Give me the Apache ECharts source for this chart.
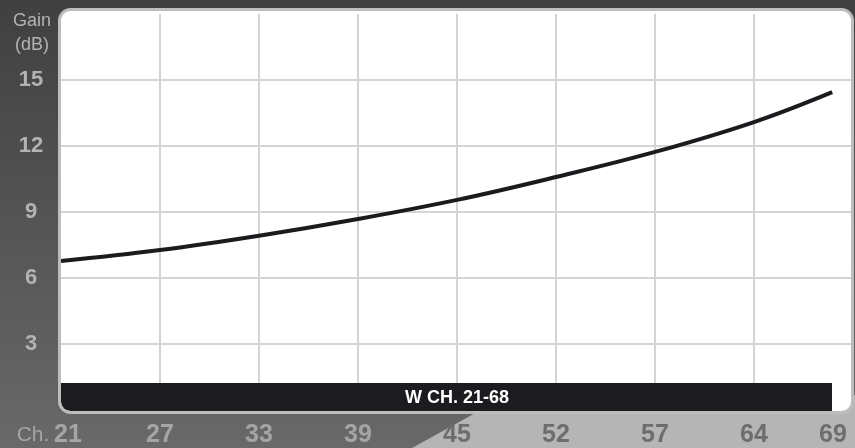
<!DOCTYPE html>
<html>
<head>
<meta charset="utf-8">
<script src="https://cdn.jsdelivr.net/npm/echarts@6/dist/echarts.min.js"></script>
<style>
html,body{margin:0;padding:0;background:#555;}
#chart{width:855px;height:448px;}
</style>
</head>
<body>
<div id="chart"></div>
<script>
// Channel tick labels (evenly spaced positions 0..8)
var channelLabels = ['21', '27', '33', '39', '45', '52', '57', '64', '69'];
// Curve sample positions (in tick-slot units) and gain values (dB)
var curvePos  = [0, 1, 2, 3, 4, 5, 6, 7, 7.79];
var curveGain = [6.77, 7.27, 7.92, 8.68, 9.55, 10.59, 11.73, 13.09, 14.45];
// Gain axis
var gainMin = 0, gainMax = 18, gainStep = 3;
var bandLabel = 'W CH. 21-68';

var FONT = "'Liberation Sans', Arial, Helvetica, sans-serif";
var chart = echarts.init(document.getElementById('chart'), null, {renderer: 'canvas'});

var seriesData = curvePos.map(function (p, i) { return [p, curveGain[i]]; });

chart.setOption({
  animation: false,
  graphic: [
    { type: 'rect', z: 0, shape: {x: 0, y: 0, width: 855, height: 448},
      style: {fill: {type: 'linear', x: 0, y: 0, x2: 0, y2: 1,
        colorStops: [{offset: 0, color: '#404040'}, {offset: 1, color: '#696969'}]}} },
    { type: 'polygon', z: 0, shape: {points: [[508, 395], [855, 395], [855, 448], [412, 448]]},
      style: {fill: '#b5b5b5'} },
    { type: 'rect', z: 1, shape: {x: 59.5, y: 9.5, width: 793, height: 403, r: 11},
      style: {fill: '#ffffff'} },
    { type: 'rect', z: 4, shape: {x: 61, y: 383, width: 771, height: 28, r: [0, 0, 0, 9]},
      style: {fill: '#1c1b1f'} },
    { type: 'text', z: 4, style: {text: bandLabel, x: 457, y: 398, align: 'center', verticalAlign: 'middle',
      font: 'bold 18px ' + FONT, fill: '#ffffff'} },
    { type: 'rect', z: 5, shape: {x: 59.5, y: 9.5, width: 793, height: 403, r: 11},
      style: {fill: 'none', stroke: '#bdbdbd', lineWidth: 3} },
    { type: 'text', z: 5, style: {text: 'Gain', x: 32, y: 21, align: 'center', verticalAlign: 'middle',
      font: '18px ' + FONT, fill: '#b3b3b3'} },
    { type: 'text', z: 5, style: {text: '(dB)', x: 32, y: 45, align: 'center', verticalAlign: 'middle',
      font: '18px ' + FONT, fill: '#b3b3b3'} },
    { type: 'text', z: 5, style: {text: 'Ch.', x: 33, y: 435, align: 'center', verticalAlign: 'middle',
      font: '21px ' + FONT, fill: '#a5a5a5'} }
  ],
  grid: {left: 61, right: 2, top: 14, bottom: 38, containLabel: false},
  xAxis: {
    type: 'value', min: 0, max: channelLabels.length - 1, interval: 1, z: 2,
    axisLine: {show: false}, axisTick: {show: false},
    splitLine: {show: true, showMinLine: false, showMaxLine: false,
      lineStyle: {color: '#d4d4d4', width: 2}},
    axisLabel: {
      show: true, margin: 13, showMinLabel: true, showMaxLabel: true,
      formatter: function (v) {
        var i = Math.round(v);
        var t = channelLabels[i];
        if (t === undefined) return '';
        if (i === 0) return '{d0|' + t + '}';
        if (i === channelLabels.length - 1) return '{l8|' + t + '}';
        return (i < 4 ? '{d|' : '{l|') + t + '}';
      },
      rich: {
        d:  {fontFamily: FONT, fontWeight: 'bold', fontSize: 25, color: '#a5a5a5'},
        d0: {fontFamily: FONT, fontWeight: 'bold', fontSize: 25, color: '#a5a5a5', padding: [0, 0, 0, 14]},
        l:  {fontFamily: FONT, fontWeight: 'bold', fontSize: 25, color: '#6d6d6d'},
        l8: {fontFamily: FONT, fontWeight: 'bold', fontSize: 25, color: '#6d6d6d', padding: [0, 40, 0, 0]}
      }
    }
  },
  yAxis: {
    type: 'value', min: gainMin, max: gainMax, interval: gainStep, z: 2,
    axisLine: {show: false}, axisTick: {show: false},
    splitLine: {show: true, showMinLine: false, showMaxLine: false,
      lineStyle: {color: '#d4d4d4', width: 2}},
    axisLabel: {
      margin: 30, align: 'center', showMinLabel: false, showMaxLabel: false,
      fontFamily: FONT, fontWeight: 'bold', fontSize: 22, color: '#b3b3b3'
    }
  },
  series: [{
    type: 'line', z: 3, data: seriesData, smooth: 0.4, symbol: 'none',
    lineStyle: {color: '#1b1a1e', width: 4}
  }]
});
</script>
</body>
</html>
